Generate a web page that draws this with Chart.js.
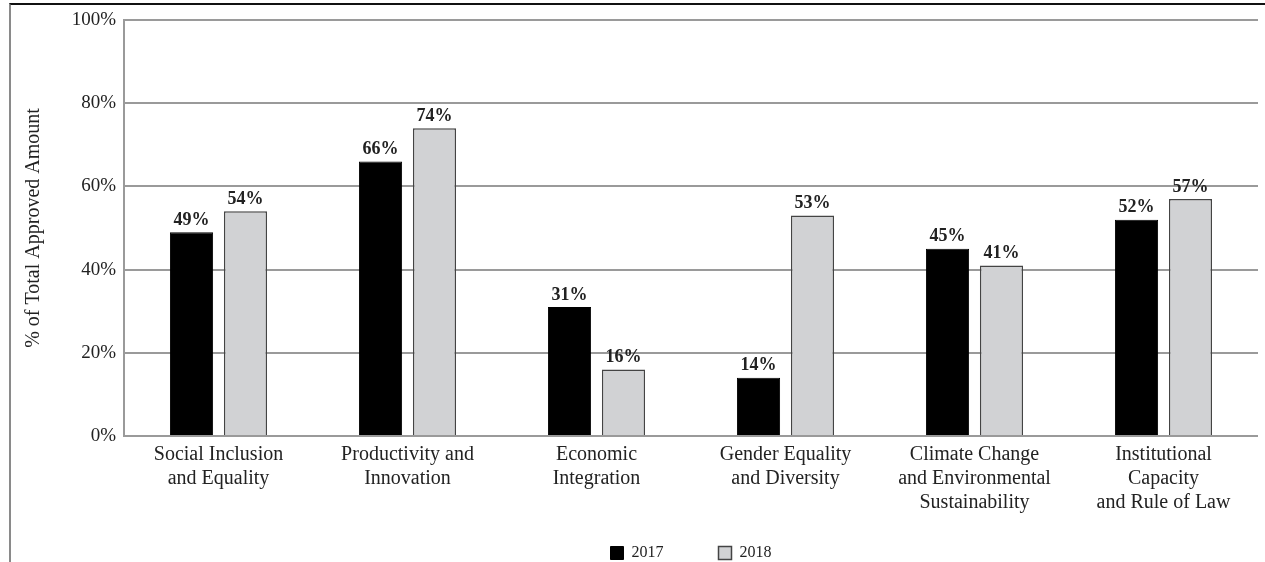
<!DOCTYPE html>
<html lang="en">
    <head>
        <meta charset="utf-8" />
        <script src="https://cdn.jsdelivr.net/npm/chart.js@4.4.1/dist/chart.umd.min.js"></script>
        <title>Approved amount by cross-cutting area</title>
        <style>
            html, body { margin: 0; padding: 0; background: #fff; }
            #marco { position: absolute; left: 0; top: 0; width: 1265px; height: 562px; }
            #borde { position: absolute; left: 9px; top: 3px; right: 0; bottom: 0; border-top: 2px solid #111; border-left: 2px solid #8a8a8a; pointer-events: none; }
        </style>
    </head>
    <body>
        <div id="marco"><canvas id="barras" width="1265" height="562"></canvas></div>
        <div id="borde"></div>
        <script>
            // categorias y valores
            const categorias = [
                ["Social Inclusion", "and Equality"],
                ["Productivity and", "Innovation"],
                ["Economic", "Integration"],
                ["Gender Equality", "and Diversity"],
                ["Climate Change", "and Environmental", "Sustainability"],
                ["Institutional", "Capacity", "and Rule of Law"]
            ];
            const valores2017 = [49, 66, 31, 14, 45, 52];
            const valores2018 = [54, 74, 16, 53, 41, 57];
            const marcasY = [0, 20, 40, 60, 80, 100];

            const serif = "'Liberation Serif', 'DejaVu Serif', serif";
            const tinta = "#222";

            // etiquetas encima de cada barra
            const etiquetas = {
                id: "etiquetas",
                afterDatasetsDraw(chart) {
                    const ctx = chart.ctx;
                    ctx.save();
                    ctx.font = "bold 18px " + serif;
                    ctx.fillStyle = tinta;
                    ctx.textAlign = "center";
                    ctx.textBaseline = "bottom";
                    chart.data.datasets.forEach((ds, i) => {
                        chart.getDatasetMeta(i).data.forEach((bar, j) => {
                            ctx.fillText(ds.data[j] + "%", bar.x, bar.y - 3);
                        });
                    });
                    ctx.restore();
                }
            };

            new Chart(document.getElementById("barras").getContext("2d"), {
                type: "bar",
                data: {
                    labels: categorias,
                    datasets: [
                        { label: "2017", data: valores2017, backgroundColor: "#000", borderColor: "#000", borderWidth: 1 },
                        { label: "2018", data: valores2018, backgroundColor: "#d1d2d4", borderColor: "#444", borderWidth: 1.5 }
                    ]
                },
                options: {
                    responsive: false,
                    animation: false,
                    categoryPercentage: 0.571,
                    barPercentage: 0.8,
                    layout: { padding: { left: 14, right: 7, top: 20, bottom: -9 } },
                    scales: {
                        x: {
                            grid: { display: false },
                            border: { display: false },
                            ticks: { color: tinta, font: { family: serif, size: 20, lineHeight: 1.2 }, padding: -1, maxRotation: 0, autoSkip: false },
                            afterFit: (s) => {
                                s.height = 54;
                                // el eje es mas bajo que las etiquetas de tres lineas: no recortarlas
                                s._computeLabelArea = () => undefined;
                            }
                        },
                        y: {
                            min: 0,
                            max: 100,
                            afterBuildTicks: (s) => { s.ticks = marcasY.map(v => ({ value: v })); },
                            grid: { color: "#9a9a9a", lineWidth: 2, drawTicks: false },
                            border: { display: true, color: "#9a9a9a", width: 2 },
                            ticks: { color: tinta, font: { family: serif, size: 19 }, padding: 8, callback: (v) => v + "%" },
                            title: { display: true, text: "% of Total Approved Amount", color: tinta, font: { family: serif, size: 20 }, padding: { top: 8, bottom: 0 } },
                            afterFit: (s) => { s.width = 110; }
                        }
                    },
                    plugins: {
                        legend: {
                            position: "bottom",
                            fullSize: false,
                            labels: { color: tinta, font: { family: serif, size: 16 }, boxWidth: 13, boxHeight: 13, padding: 55, useBorderRadius: false }
                        },
                        tooltip: { enabled: false }
                    }
                },
                plugins: [etiquetas]
            });
        </script>
    </body>
</html>
